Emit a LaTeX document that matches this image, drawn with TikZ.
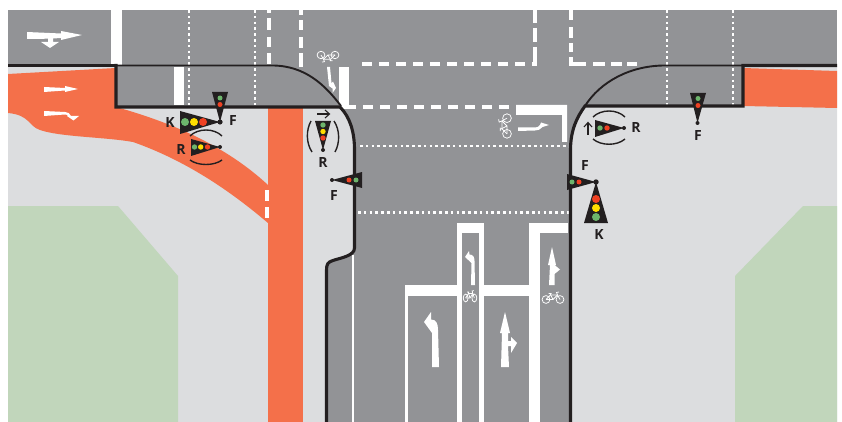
\documentclass[tikz,border=0pt]{standalone}
\usepackage{fontspec}
\setmainfont{Open Sans}
\definecolor{roadgray}{HTML}{929396}
\definecolor{walkgray}{HTML}{DCDDDF}
\definecolor{cyclered}{HTML}{F4704A}
\definecolor{grassgreen}{HTML}{C1D6BB}
\definecolor{inkblack}{HTML}{231F20}
\definecolor{lampgreen}{HTML}{6DB56C}
\definecolor{lampyellow}{HTML}{FFDD00}
\definecolor{lampred}{HTML}{EF4123}
\tikzset{
  kerb/.style={inkblack,line width=3.1pt,line join=miter},
  thinkerb/.style={inkblack,line width=1.9pt},
  roadline/.style={white,line width=4pt,dash pattern=on 10pt off 7pt},
  whitedash/.style={white,line width=4pt},
  dotline/.style={white,line width=2.2pt,dash pattern=on 2.6pt off 3.2pt},
  bracket/.style={inkblack,line width=1.4pt},
  signlabel/.style={inkblack,font=\bfseries\fontsize{14}{15}\selectfont,inner sep=0pt},
  bike/.pic={
    \draw[white,line width=.75pt] (-7,0) circle (3.9);
    \draw[white,line width=.75pt] (7,0) circle (3.9);
    \draw[white,line width=.75pt] (-7,0) -- (-2.5,-4.5) -- (4.5,-4.5) -- (7,0);
    \draw[white,line width=.75pt] (-7,0) -- (0,0) -- (4.5,-4.5);
    \draw[white,line width=.75pt] (0,0) -- (-3,-6) (-4.5,-6) -- (-1.5,-6);
    \draw[white,line width=.75pt] (4.5,-4.5) -- (3.5,-7) -- (6,-7.5);
  }
}
\begin{document}
\begin{tikzpicture}[x=1pt,y=-1pt]
  \useasboundingbox (0,0) rectangle (842,422);
  % ground
  \fill[roadgray] (8,10) rectangle (837,422);
  \fill[walkgray] (8,66) -- (116,66) -- (116,107) -- (340,107) .. controls (350,117) and (354.5,132) .. (354.5,150)
    -- (354.5,248) .. controls (354.5,256) and (340,258) .. (333,260.5) .. controls (328,262) and (326.5,264) .. (326.5,270)
    -- (326.5,422) -- (8,422) -- cycle;
  \fill[walkgray] (570.5,422) -- (570.5,150) .. controls (570.5,130) and (577,117) .. (585,106)
    -- (743,106) -- (743,66) -- (837,66) -- (837,422) -- cycle;
  \fill[grassgreen] (8,206) -- (118,206) -- (178,276) -- (178,422) -- (8,422) -- cycle;
  \fill[grassgreen] (837,206) -- (803,206) -- (735,276) -- (735,422) -- (837,422) -- cycle;

  % cycle track
  \fill[cyclered] (268,107) rectangle (303,422);
  \fill[cyclered] (8,74) -- (116,68) -- (116,107) .. controls (170,122) and (225,145) .. (268,185)
    -- (268,223) .. controls (235,195) and (190,162) .. (133,142) .. controls (105,137) and (60,137) .. (40,130)
    .. controls (28,126) and (30,115) .. (8,113) -- cycle;
  \fill[cyclered] (743,68) -- (837,71) -- (837,108) -- (743,106) -- cycle;
  \draw[whitedash] (266.5,190) -- (266.5,200.5) (266.5,207) -- (266.5,218);

  % markings across the top
  \fill[white] (111,10) rectangle (122,65);
  \fill[white] (174,67) rectangle (184,105);
  \draw[dotline] (189,10) -- (189,105);
  \draw[dotline] (255,10) -- (255,105);
  \draw[dotline] (667,10) -- (667,105);
  \draw[dotline] (733,10) -- (733,105);
  \draw[whitedash] (268.5,10) -- (268.5,13.5) (268.5,18) -- (268.5,30) (268.5,37) -- (268.5,47) (268.5,53) -- (268.5,64);
  \draw[whitedash] (301,10) -- (301,15) (301,20) -- (301,30) (301,37) -- (301,48) (301,53) -- (301,67);
  \draw[roadline] (362,64.5) -- (533,64.5);
  \draw[whitedash] (535,10) -- (535,23) (535,28) -- (535,42) (535,47) -- (535,66.5);
  \draw[whitedash] (571,10) -- (571,20) (571,27) -- (571,38) (571,43) -- (571,52) (571,57) -- (571,64.5) -- (586,64.5);
  \draw[whitedash] (593,64.5) -- (605,64.5) (611,64.5) -- (622,64.5) (627,64.5) -- (637,64.5);

  % stop lines
  \fill[white] (339,67) rectangle (349,109);
  \fill[white] (349,105) rectangle (356,109);
  \draw[roadline] (363,107) -- (510,107);
  \fill[white] (516,105) -- (567,105) -- (567,142) -- (562,142) -- (562,115) -- (516,115) -- cycle;
  \draw[dotline] (360,146) -- (569,146);
  \draw[dotline] (358,212.5) -- (569,212.5);

  % lanes at the bottom
  \fill[white] (405,285) rectangle (457,296);
  \fill[white] (484,285) rectangle (530,296);
  \fill[white] (405,296) rectangle (408,422);
  \fill[white] (457,223) rectangle (462,422);
  \fill[white] (479,223) rectangle (484,422);
  \fill[white] (457,223) rectangle (484,233);
  \fill[white] (529,223) rectangle (540,422);
  \fill[white] (529,223) rectangle (568,233);
  \draw[white,line width=1.6pt] (353,255) -- (353,422);

  % road arrows
  \fill[white] (27,32) -- (61,33.5) -- (61,31) -- (82,35) -- (61,40) -- (61,38) -- (53,38.5) -- (53,42) -- (59,42) -- (50,48) -- (41,42) -- (48,42) -- (48,38.7) -- (27,39) -- cycle;
  \fill[white] (44,87) -- (65,88) -- (65,86) -- (78,89) -- (65,92) -- (65,90.5) -- (44,92) -- cycle;
  \fill[white] (44,111) -- (65,112) .. controls (68,112) and (70,113.5) .. (71,116) -- (79,116) -- (73.5,120.5) -- (67,116) -- (68,116)
    .. controls (67.5,115) and (66.5,114.5) .. (65,114.5) -- (44,116) -- cycle;
  \fill[white] (432,367) -- (432,333) -- (424,322) -- (431,312) -- (431,319.5) .. controls (436,319.5) and (438,323) .. (438,330) -- (439,367) -- cycle;
  \fill[white] (501,367) -- (502,333) -- (500,333) -- (505,312) -- (510,333) -- (508,333) -- (508,341) -- (511,341) -- (511,337) -- (517,343) -- (511,353) -- (511,346) -- (508,346) -- (509,367) -- cycle;
  \fill[white] (471,285) -- (471.5,263) -- (465,257) -- (469,251) -- (469.5,254.5) .. controls (473,254.5) and (474.5,257) .. (474.5,261) -- (475,285) -- cycle;
  \fill[white] (549,285) -- (550,265) -- (548,265) -- (552,247) -- (556,265) -- (554.5,265) -- (560,269.5) -- (554.5,274) -- (554.5,285) -- cycle;
  \fill[white] (518,127.5) -- (535,127.5) .. controls (537,127.5) and (538.5,127) .. (540,125) -- (541,122.5) -- (549,125) -- (542.5,127)
    .. controls (540.5,129.5) and (538,130.5) .. (535,130.5) -- (518,131) -- cycle;
  \fill[white] (327,67) -- (330,67) -- (331.5,83) -- (333,81.5) -- (336,88) -- (332.5,93) -- (332.5,88.5) -- (329,86) -- cycle;

  % bicycles
  \pic at (553,299.5) {bike};
  \pic[xscale=.62] at (470,298) {bike};
  \pic[rotate=180,yscale=.95] at (328,55) {bike};
  \pic[rotate=90,scale=1.12] at (507,126) {bike};

  % kerbs
  \draw[kerb,line width=3.6pt] (8,65.5) -- (116,65.5);
  \draw[thinkerb] (116,65.5) -- (272,65.5) .. controls (305,65.5) and (325,85) .. (341,106);
  \draw[kerb] (116,64) -- (116,107) -- (340,107) .. controls (350,117) and (354.5,132) .. (354.5,150)
    -- (354.5,248) .. controls (354.5,256) and (340,258) .. (333,260.5) .. controls (328,262) and (326.5,264) .. (326.5,270) -- (326.5,422);
  \draw[kerb] (570.5,422) -- (570.5,150) .. controls (570.5,130) and (577,117) .. (585,106) -- (743,106) -- (743,65.5) -- (837,65.5);
  \draw[thinkerb] (585,106) .. controls (600,82) and (630,65.5) .. (665,65.5) -- (743,65.5);

  % signals, west corner
  \fill[inkblack] (212,92) -- (228,92) -- (220,122) -- cycle;
  \fill[inkblack] (180,111) -- (220,122) -- (180,134) -- cycle;
  \fill[inkblack] (220,122) circle (2.6);
  \fill[lampgreen] (220,98) circle (2.5);
  \fill[lampred] (220,104.5) circle (2.5);
  \fill[lampgreen] (185,122) circle (4);
  \fill[lampyellow] (194,122) circle (4);
  \fill[lampred] (203,122) circle (4);
  \fill[inkblack] (191,139) -- (220,147) -- (191,156) -- cycle;
  \fill[inkblack] (220,147) circle (2);
  \fill[lampgreen] (194.5,147) circle (2.7);
  \fill[lampyellow] (200.7,147) circle (2.7);
  \fill[lampred] (207.5,147) circle (2.7);
  \draw[bracket] (190,136) .. controls (198,128) and (214,128) .. (222,136);
  \draw[bracket] (190,160) .. controls (198,166) and (214,166) .. (222,160);
  \node[signlabel] (kwest) at (170,123) {K};
  \node[signlabel] (fwest) at (233,121) {F};
  \node[signlabel] (rwest) at (181,150) {R};

  % signals, centre kerb
  \fill[inkblack] (315,121) -- (331,121) -- (323,150) -- cycle;
  \fill[inkblack] (323,150) circle (2);
  \fill[lampgreen] (323,125) circle (2.7);
  \fill[lampyellow] (323,131.5) circle (2.7);
  \fill[lampred] (323,138) circle (2.7);
  \draw[bracket] (311,121) .. controls (306,130) and (306,143) .. (312,152);
  \draw[bracket] (334,121) .. controls (340,130) and (340,143) .. (335,152);
  \draw[inkblack,line width=1.1pt] (317,114) -- (329,114);
  \draw[inkblack,line width=1.1pt] (325,110) -- (329.5,114) -- (325,118);
  \fill[inkblack] (362,172) -- (362,188) -- (332,180) -- cycle;
  \fill[inkblack] (332,180) circle (2);
  \fill[lampgreen] (356,180) circle (2.5);
  \fill[lampred] (349,180) circle (2.5);
  \node[signlabel] (rcentre) at (323,163) {R};
  \node[signlabel] (fcentre) at (334,196) {F};

  % signals, east corner
  \fill[inkblack] (584,223) -- (608,223) -- (596,182) -- cycle;
  \fill[inkblack] (567,174) -- (567,190) -- (596,182) -- cycle;
  \fill[inkblack] (596,182) circle (2.7);
  \fill[lampred] (596,199) circle (4);
  \fill[lampyellow] (596,208) circle (4);
  \fill[lampgreen] (596,217) circle (4);
  \fill[lampgreen] (572,182) circle (2.5);
  \fill[lampred] (579,182) circle (2.5);
  \fill[inkblack] (595,120) -- (595,137) -- (624,128) -- cycle;
  \fill[inkblack] (624,128) circle (2);
  \fill[lampgreen] (600,128) circle (2.7);
  \fill[lampred] (607,128) circle (2.7);
  \draw[bracket] (593,117) .. controls (601,109) and (617,109) .. (625,117);
  \draw[bracket] (593,139) .. controls (601,146) and (617,146) .. (625,139);
  \draw[inkblack,line width=1.1pt] (588,135) -- (588,123);
  \draw[inkblack,line width=1.1pt] (584,127) -- (588,122.5) -- (592,127);
  \fill[inkblack] (690,93) -- (706,93) -- (697.5,123) -- cycle;
  \fill[inkblack] (697.5,123) circle (2);
  \fill[lampgreen] (698,98.5) circle (2.5);
  \fill[lampred] (698,105.5) circle (2.5);
  \node[signlabel] (keast) at (599,235) {K};
  \node[signlabel] (feast) at (585,166) {F};
  \node[signlabel] (reast) at (636,128) {R};
  \node[signlabel] (fnorth) at (698,136) {F};
\end{tikzpicture}
\end{document}
